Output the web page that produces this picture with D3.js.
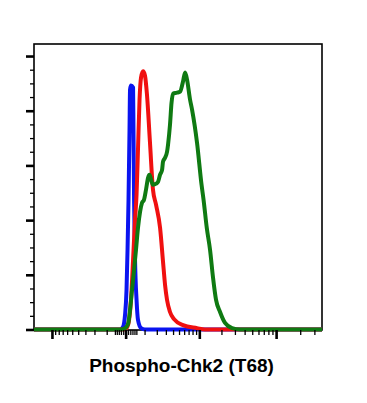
<!DOCTYPE html>
<html>
<head>
<meta charset="utf-8">
<script src="https://cdn.jsdelivr.net/npm/d3@7"></script>
<style>
html,body{margin:0;padding:0;background:#fff;}
svg{display:block;}
</style>
</head>
<body>
<script>
// ---- data (x = fluorescence intensity, y = % of max) ----
const blueX  = [-1760, -24, -11, -2.4, 3.6, 7.8, 12, 16.4, 18.7, 23, 33, 35, 38, 43, 51, 59, 77, 103, 37000];
const blueY  = [0, 0, 0.9, 5.3, 14.5, 29.1, 47.4, 73.1, 87.7, 89.2, 88.5, 73.1, 47.4, 25.5, 10.8, 3.5, 0.5, 0, 0];

const redX   = [-1760, -2.4, 9.9, 23, 33, 43, 51, 59, 68, 77, 90, 103, 117, 140, 165, 193, 233, 266, 290, 315, 355, 415, 577, 928, 1201, 37000];
const redY   = [0, 0, 1.6, 10.8, 25.5, 40.1, 49.3, 65.8, 84.1, 92.1, 94.4, 92.8, 85.9, 68.3, 51.1, 45.6, 37.2, 24.7, 16.3, 10.8, 6.4, 3.8, 1.6, 0.5, 0, 0];

const greenX = [-1760, -24, -2.4, 9.9, 18.7, 28, 38, 48, 59, 71, 83, 96, 110, 125, 136, 149, 165, 193, 212, 233, 255, 266, 290, 315, 328, 355, 377, 400, 465, 519, 577, 620, 664, 735, 787, 928, 1075, 1147, 1269, 1408, 1545, 1695, 1917, 2230, 2755, 3496, 37000];
const greenY = [0, 0, 0.5, 2.0, 7.1, 14.5, 21.8, 29.1, 37.2, 43.0, 46.3, 47.4, 51.1, 55.5, 56.6, 54.8, 52.9, 53.3, 54.0, 56.6, 58.4, 61.4, 62.8, 65.0, 67.6, 74.9, 82.9, 86.3, 86.6, 87.0, 90.7, 94.0, 91.4, 84.1, 80.4, 68.3, 52.9, 47.4, 37.2, 29.1, 18.9, 10.8, 6.4, 2.4, 0.5, 0, 0];

const xMajorTicks = [-1000, 0, 1000, 10000];
const xMinorTicks = [-900,-800,-700,-600,-500,-400,-300,-200,-100,-50,-40,-30,-20,-10,10,20,30,40,50,100,200,300,400,500,600,700,800,900,2000,3000,4000,5000,6000,7000,8000,9000,20000,30000];
const yMajorTicks = [0, 20, 40, 60, 80, 100];
const yMinorTicks = [5,10,15,25,30,35,45,50,55,65,70,75,85,90,95];
const xLabel = "Phospho-Chk2 (T68)";

const series = [
  {x: blueX,  y: blueY,  color: "#0a14f0"},
  {x: redX,   y: redY,   color: "#f01010"},
  {x: greenX, y: greenY, color: "#0f7a12"}
];

// ---- layout ----
const W = 367, H = 403;
const L = 34, R = 322, T = 44, B = 329.5;

const svg = d3.select("body").append("svg").attr("width", W).attr("height", H);

const x = d3.scaleSymlog().constant(140).domain([-1760, 37300]).range([L, R]);
const y = d3.scaleLinear().domain([0, 104.4]).range([B, T]);

// frame
svg.append("rect").attr("x", L).attr("y", T).attr("width", R - L).attr("height", B - T + 0.5)
  .attr("fill", "none").attr("stroke", "#000").attr("stroke-width", 1.6);

// curves
const line = d3.line().x(d => x(d[0])).y(d => y(d[1])).curve(d3.curveMonotoneX);
const g = svg.append("g").attr("clip-path", "url(#clip)");
svg.append("clipPath").attr("id", "clip").append("rect")
  .attr("x", L).attr("y", T - 5).attr("width", R - L).attr("height", B - T + 10);
series.forEach(s => {
  const pts = s.x.map((v, i) => [v, s.y[i]]);
  g.append("path").attr("d", line(pts)).attr("fill", "none")
    .attr("stroke", s.color).attr("stroke-width", 4)
    .attr("stroke-linejoin", "round").attr("stroke-linecap", "round");
});

// y axis ticks
const yMaj = d3.axisLeft(y).tickValues(yMajorTicks).tickSize(8).tickFormat("");
const yMin = d3.axisLeft(y).tickValues(yMinorTicks).tickSize(4).tickFormat("");
const gyM = svg.append("g").attr("transform", `translate(${L},0)`).call(yMaj);
gyM.selectAll("line").attr("stroke-width", 2.6);
const gym = svg.append("g").attr("transform", `translate(${L},0)`).call(yMin);
gym.selectAll("line").attr("stroke-width", 1.3);
[gyM, gym].forEach(a => a.select(".domain").remove());

// x axis ticks
const xMaj = d3.axisBottom(x).tickValues(xMajorTicks).tickSize(9).tickFormat("");
const xMin = d3.axisBottom(x).tickValues(xMinorTicks).tickSize(5).tickFormat("");
const gxM = svg.append("g").attr("transform", `translate(0,${B + 0.5})`).call(xMaj);
gxM.selectAll("line").attr("stroke-width", 2.6);
const gxm = svg.append("g").attr("transform", `translate(0,${B + 0.5})`).call(xMin);
gxm.selectAll("line").attr("stroke-width", 1.3);
[gxM, gxm].forEach(a => a.select(".domain").remove());

// x label
svg.append("text").attr("x", 181.5).attr("y", 372).attr("text-anchor", "middle")
  .attr("font-family", "'Liberation Sans', Arial, sans-serif").attr("font-weight", "bold")
  .attr("font-size", 19).attr("fill", "#000").text(xLabel);
</script>
</body>
</html>
